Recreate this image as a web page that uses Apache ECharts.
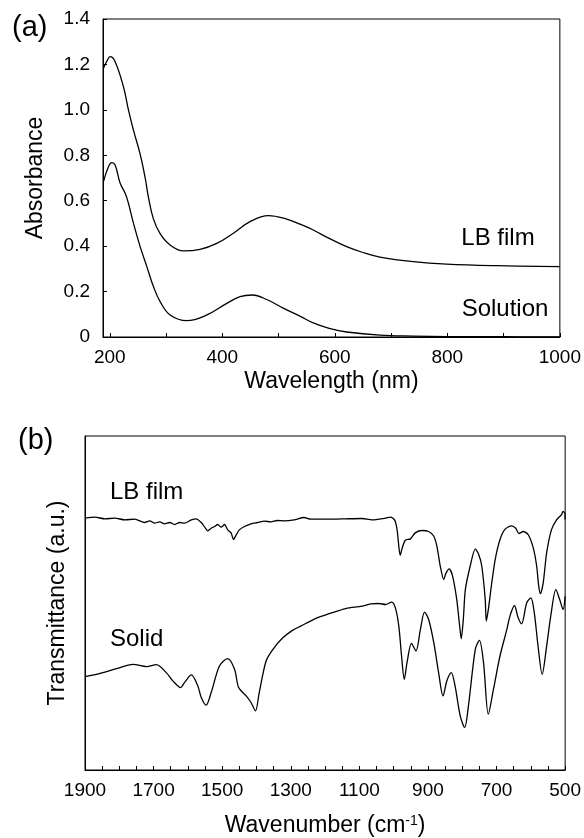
<!DOCTYPE html>
<html><head><meta charset="utf-8">
<script src="https://cdn.jsdelivr.net/npm/echarts@6/dist/echarts.min.js"></script>
<style>html,body{margin:0;padding:0;background:#fff}#c{width:584px;height:838px}</style>
</head><body><div id="c"></div>
<script>
// ---- Panel (a): UV-vis absorbance ----
const uvLBWavelength = [188.8,195,200.7,209.6,224.3,233.2,242.1,254,263,268.8,277.6,289.5,307.3,331,360.6,390.2,419.7,449.4,481.9,514.6,538,561.8,590,621.1,650,680.3,739.4,798.8,887.6,1000];
const uvLBAbsorbance = [1.183,1.215,1.234,1.212,1.102,1.0,0.911,0.805,0.70,0.615,0.52,0.455,0.405,0.379,0.386,0.412,0.457,0.508,0.534,0.519,0.497,0.471,0.434,0.398,0.372,0.352,0.332,0.321,0.314,0.31];
const uvSolWavelength = [188.8,197.7,203.7,209.6,218.5,227.4,233.2,242.1,254,265.9,277.6,289.5,307.3,337,372.5,408,431.6,453.5,479,508.5,538,561.8,590,621.1,680.3,740,800,900,1000];
const uvSolAbsorbance = [0.684,0.75,0.768,0.757,0.677,0.633,0.589,0.501,0.398,0.31,0.222,0.156,0.097,0.072,0.097,0.148,0.178,0.185,0.165,0.127,0.092,0.062,0.038,0.022,0.008,0.004,0.002,0.001,0.0];
const uvXTicks = [200,300,400,500,600,700,800,900,1000];
const uvXLabels = [200,400,600,800,1000];

// ---- Panel (b): IR transmittance (arbitrary units) ----
const irLBWavenumber = [1900,1871,1842,1813,1784,1755,1726,1711,1697,1682,1668,1653,1639,1624,1610,1590,1576,1561,1551,1542,1532,1522,1513,1503,1493,1484,1474,1467,1460,1450,1435,1416,1397,1377,1358,1339,1319,1290,1261,1242,1203,1174,1140,1092,1063,1024,1009,997,990,985,981,975,966,951,937,917,898,883,874,864,854,848,838,828,816,808,803,797,791,777,762,752,743,733,730,724,714,704,690,675,656,644,635,622,608,593,583,577,572,564,554,540,525,511,506,501,500];
const irLBTransmittance = [75.4,75.7,75.2,75.4,74.9,75.1,74.1,74.6,73.9,74.3,73.7,74.1,73.5,74.1,73.9,74.9,75.2,74.1,72.7,71.6,72.4,72.9,73.5,72.7,73.5,71.9,71.0,69.0,70.2,71.9,72.9,73.7,74.1,74.5,74.3,74.7,74.6,74.9,75.6,75.1,75.1,75.1,75.2,75.3,74.9,75.4,75.7,74.8,71.9,67.0,64.3,66.5,68.8,69.2,71.0,71.7,71.4,70.0,67.0,61.0,57.0,58.8,60.2,58.0,51.0,43.5,39.3,45.0,54.0,61.0,66.2,64.5,61.0,51.0,44.6,48.0,56.0,63.0,69.0,72.1,73.1,72.4,70.8,71.4,70.5,66.5,61.0,55.0,52.8,56.0,65.0,71.9,74.9,76.4,77.4,76.9,75.0];
const irSolidWavenumber = [1900,1856,1808,1760,1721,1692,1663,1644,1621,1610,1590,1571,1561,1547,1532,1508,1484,1464,1452,1430,1416,1403,1392,1372,1353,1324,1295,1271,1222,1188,1140,1092,1067,1043,1024,1006,995,985,977,969,961,948,935,922,910,898,883,869,856,845,832,821,806,793,782,762,750,738,724,709,690,670,661,648,637,627,612,600,590,579,567,554,542,527,516,506,500];
const irSolidTransmittance = [27.96,28.96,30.35,31.64,30.95,31.54,29.16,26.67,24.68,26.17,28.46,25.17,21.69,19.4,23.18,31.14,33.33,30.15,24.68,22.19,20.2,17.71,23.18,32.64,36.0,39.5,41.8,43.1,45.6,46.8,48.35,49.05,49.75,49.85,49.55,50.25,48.55,43.08,34.13,27.16,32.14,37.91,35.62,42.09,47.26,45.07,38.11,29.15,22.19,26.67,29.15,25.17,16.22,12.74,19.2,36.12,38.81,32.14,16.72,24.18,34.13,42.09,46.07,49.25,45.57,43.78,50.05,51.54,47.06,37.11,28.66,37.11,46.07,54.03,51.04,48.05,52.0];
const irXTicks = []; for (let v = 500; v <= 1900; v += 50) irXTicks.push(v);
const irXLabels = [500,700,900,1100,1300,1500,1700,1900];

const zip = (xs, ys) => xs.map((x, i) => [x, ys[i]]);
const FF = '"Liberation Sans", Arial, Helvetica, sans-serif';
const black = '#000';
const axisLine = {show: true, onZero: false, lineStyle: {color: black, width: 1}};
const plain = v => String(Math.round(v));

const chart = echarts.init(document.getElementById('c'), null, {renderer: 'canvas'});
chart.setOption({
  animation: false,
  backgroundColor: '#fff',
  grid: [
    {left: 103, top: 19, width: 457, height: 318, show: true, borderColor: black, borderWidth: 1, containLabel: false},
    {left: 85, top: 436, width: 482, height: 335, show: true, borderColor: black, borderWidth: 1, containLabel: false}
  ],
  xAxis: [
    {gridIndex: 0, type: 'value', min: 188, max: 1000, axisLine,
     axisTick: {show: true, inside: true, length: 4, customValues: uvXTicks, lineStyle: {color: black}},
     axisLabel: {customValues: uvXLabels, fontSize: 19, color: black, margin: 11, fontFamily: FF, formatter: plain},
     splitLine: {show: false},
     name: 'Wavelength (nm)', nameLocation: 'middle', nameGap: 33,
     nameTextStyle: {fontSize: 23, color: black, fontFamily: FF}},
    {gridIndex: 1, type: 'value', min: 500, max: 1900, inverse: true, axisLine,
     axisTick: {show: true, inside: true, length: 4, customValues: irXTicks, lineStyle: {color: black}},
     axisLabel: {customValues: irXLabels, fontSize: 19, color: black, margin: 11, fontFamily: FF, formatter: plain},
     splitLine: {show: false},
     name: 'Wavenumber (cm{sup|-1})', nameLocation: 'middle', nameGap: 44,
     nameTextStyle: {fontSize: 23, color: black, fontFamily: FF,
       rich: {sup: {fontSize: 14, color: black, fontFamily: FF, verticalAlign: 'top'}}}}
  ],
  yAxis: [
    {gridIndex: 0, type: 'value', min: 0, max: 1.4, interval: 0.2, axisLine,
     axisTick: {show: true, inside: true, length: 4, lineStyle: {color: black}},
     axisLabel: {fontSize: 19, color: black, margin: 13, fontFamily: FF,
       formatter: v => (Math.abs(v) < 1e-9 ? '0' : v.toFixed(1))},
     splitLine: {show: false},
     name: 'Absorbance', nameLocation: 'middle', nameGap: 56,
     nameTextStyle: {fontSize: 23, color: black, fontFamily: FF}},
    {gridIndex: 1, type: 'value', min: 0, max: 100, axisLine,
     axisTick: {show: false}, axisLabel: {show: false}, splitLine: {show: false},
     name: 'Transmittance (a.u.)', nameLocation: 'middle', nameGap: 16,
     nameTextStyle: {fontSize: 23, color: black, fontFamily: FF}}
  ],
  series: [
    {type: 'line', xAxisIndex: 0, yAxisIndex: 0, data: zip(uvLBWavelength, uvLBAbsorbance), showSymbol: false, smooth: 0.4, lineStyle: {color: black, width: 1.3}},
    {type: 'line', xAxisIndex: 0, yAxisIndex: 0, data: zip(uvSolWavelength, uvSolAbsorbance), showSymbol: false, smooth: 0.4, lineStyle: {color: black, width: 1.3}},
    {type: 'line', xAxisIndex: 1, yAxisIndex: 1, data: zip(irLBWavenumber, irLBTransmittance), showSymbol: false, smooth: 0.25, lineStyle: {color: black, width: 1.3}},
    {type: 'line', xAxisIndex: 1, yAxisIndex: 1, data: zip(irSolidWavenumber, irSolidTransmittance), showSymbol: false, smooth: 0.3, lineStyle: {color: black, width: 1.3}}
  ],
  graphic: [
    {type: 'text', left: 12, top: 13, style: {text: '(a)', fontSize: 29, fill: black, fontFamily: FF}},
    {type: 'text', left: 18, top: 426, style: {text: '(b)', fontSize: 29, fill: black, fontFamily: FF}},
    {type: 'text', x: 498, y: 238, style: {text: 'LB film', fontSize: 24, fill: black, fontFamily: FF, align: 'center', verticalAlign: 'middle'}},
    {type: 'text', x: 505, y: 309, style: {text: 'Solution', fontSize: 24, fill: black, fontFamily: FF, align: 'center', verticalAlign: 'middle'}},
    {type: 'text', x: 110, y: 492, style: {text: 'LB film', fontSize: 24, fill: black, fontFamily: FF, align: 'left', verticalAlign: 'middle'}},
    {type: 'text', x: 110, y: 639, style: {text: 'Solid', fontSize: 24, fill: black, fontFamily: FF, align: 'left', verticalAlign: 'middle'}}
  ]
});
</script></body></html>
